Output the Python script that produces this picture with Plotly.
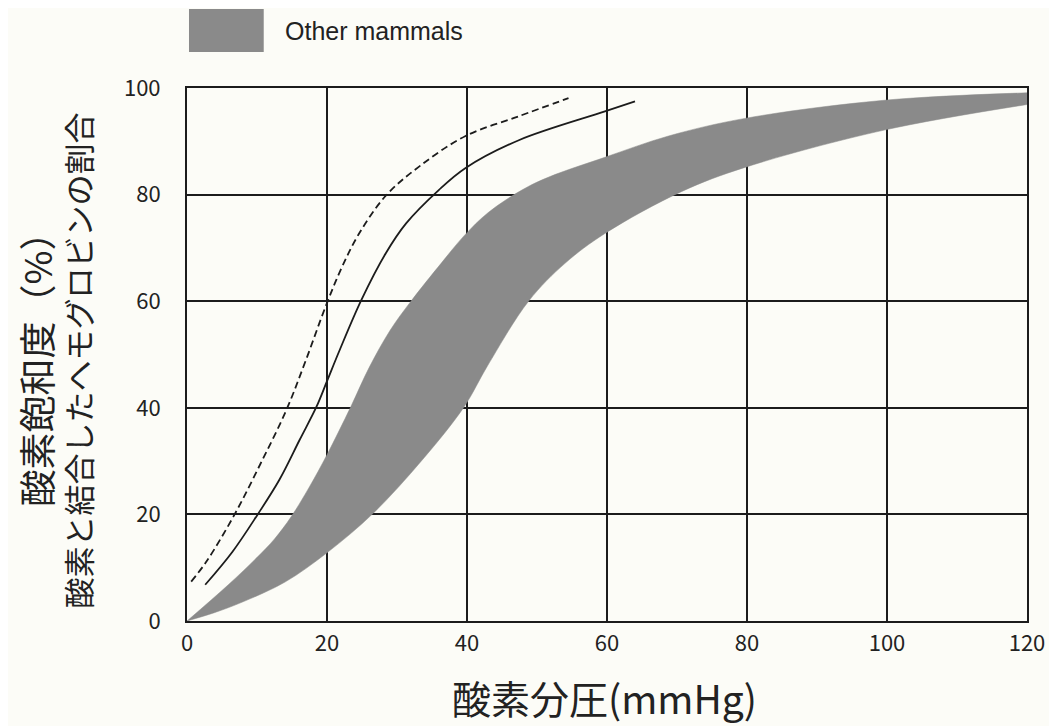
import plotly.graph_objects as go

# Dashed curve
dash_x = [0.6, 2.8, 6.8, 10.5, 14.2, 17.0, 19.8, 22.0, 24.5, 28.4, 33.2, 39.8, 47.4, 54.5]
dash_y = [7.4, 11.2, 20.0, 29.5, 39.6, 49.0, 59.0, 66.0, 72.5, 79.8, 85.3, 91.0, 94.7, 98.1]

# Solid curve
solid_x = [2.6, 6.5, 10.1, 13.2, 16.1, 18.5, 20.0, 21.8, 24.9, 28.4, 31.3, 36.0, 39.8, 47.4, 59.7, 64.0]
solid_y = [6.8, 13.0, 20.0, 26.5, 34.0, 40.2, 45.0, 50.8, 60.2, 69.0, 74.6, 80.9, 85.0, 90.2, 95.6, 97.5]

# Other mammals band: upper and lower edges
upper_x = [0, 5.9, 9.9, 12.5, 14.9, 17.5, 20.0, 23.4, 26.0, 29.0, 32.0, 36.3, 39.6, 43.0, 47.9, 51.7, 59.7, 68.8, 79.7, 99.6, 120]
upper_y = [0, 6.8, 11.8, 15.4, 19.6, 25.2, 31.2, 40.2, 47.5, 54.5, 60.0, 67.1, 72.3, 76.6, 80.9, 83.3, 87.0, 91.0, 94.3, 97.7, 99.1]
lower_x = [0, 4.0, 8.0, 14.0, 20.0, 26.6, 33.6, 39.6, 42.9, 48.8, 54.0, 59.7, 70.7, 79.7, 99.6, 120]
lower_y = [0, 1.6, 3.6, 7.3, 12.8, 20.2, 30.2, 40.2, 47.8, 60.0, 67.1, 72.7, 80.6, 85.1, 92.1, 96.9]

x_ticks = [0, 20, 40, 60, 80, 100, 120]
y_ticks = [0, 20, 40, 60, 80, 100]

legend_label = "Other mammals"
x_title = "酸素分圧(mmHg)"
y_title_main = "酸素飽和度（%）"
y_title_sub = "酸素と結合したヘモグロビンの割合"

BAND = "#8a8a8a"
BG = "#fcfcf7"
INK = "#1c1c1c"
FONT = "Noto Sans CJK JP"

fig = go.Figure()

fig.add_trace(go.Scatter(x=lower_x, y=lower_y, mode="lines", line_shape="spline",
                         line=dict(color=BAND, width=0.5), showlegend=False, hoverinfo="skip"))
fig.add_trace(go.Scatter(x=upper_x, y=upper_y, mode="lines", line_shape="spline",
                         fill="tonexty", fillcolor=BAND,
                         line=dict(color=BAND, width=0.5), showlegend=False, hoverinfo="skip"))
fig.add_trace(go.Scatter(x=solid_x, y=solid_y, mode="lines", line_shape="spline",
                         line=dict(color=INK, width=1.8), showlegend=False))
fig.add_trace(go.Scatter(x=dash_x, y=dash_y, mode="lines", line_shape="spline",
                         line=dict(color=INK, width=1.8, dash="7px,4px"), showlegend=False))

axis_common = dict(showgrid=True, gridcolor=INK, gridwidth=2,
                   showline=True, linecolor=INK, linewidth=2, mirror=True,
                   zeroline=False, ticks="", layer="above traces",
                   tickfont=dict(family=FONT, size=22, color="#222222"))

fig.update_xaxes(range=[0, 120], tickvals=x_ticks, ticklabelstandoff=2, **axis_common)
fig.update_yaxes(range=[0, 100], tickvals=y_ticks, ticklabelstandoff=20, **axis_common)

# the page body adds an 8px offset, so the figure is drawn 8px smaller and shifted
fig.update_layout(
    width=1049, height=718,
    margin=dict(l=179, r=27, t=80, b=105),
    paper_bgcolor=BG, plot_bgcolor=BG,
    font=dict(family=FONT, color="#222222"),
    showlegend=False,
    shapes=[dict(type="rect", xref="paper", yref="paper",
                 x0=(189 - 187) / 843, x1=(264 - 187) / 843,
                 y0=(621 - 52) / 533, y1=(621 - 9) / 533,
                 fillcolor=BAND, line=dict(width=0))],
    annotations=[
        dict(text=legend_label, xref="paper", yref="paper",
             x=(283 - 187) / 843, y=(621 - 31) / 533, xanchor="left", yanchor="middle",
             showarrow=False, font=dict(family="Liberation Sans", size=25, color="#222222")),
        dict(text=x_title, xref="paper", yref="paper", borderpad=0,
             x=(606 - 187) / 843, y=(621 - 697) / 533, xanchor="center", yanchor="middle",
             showarrow=False, font=dict(family=FONT, size=39, color="#222222")),
        dict(text=y_title_main, xref="paper", yref="paper", textangle=-90, borderpad=0,
             x=(35 - 187) / 843, y=(621 - 360) / 533, xanchor="center", yanchor="middle",
             showarrow=False, font=dict(family=FONT, size=37, color="#222222")),
        dict(text=y_title_sub, xref="paper", yref="paper", textangle=-90, borderpad=0,
             x=(77 - 187) / 843, y=(621 - 360) / 533, xanchor="center", yanchor="middle",
             showarrow=False, font=dict(family=FONT, size=31, color="#222222")),
    ],
)

fig.write_html("out.html")
